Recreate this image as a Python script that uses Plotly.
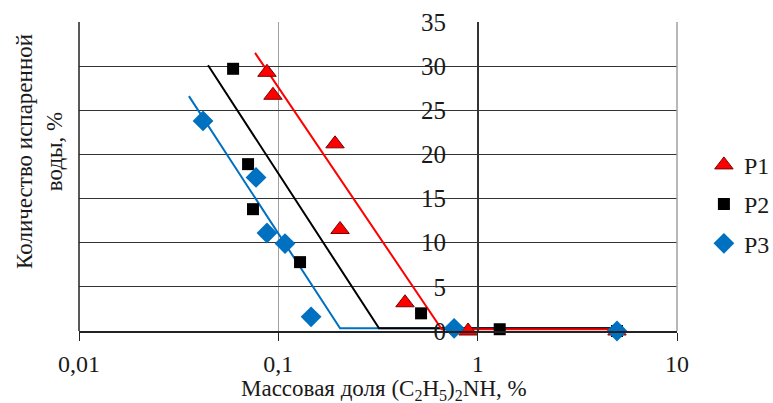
import plotly.graph_objects as go

# ---- data ----
p1_x = [0.0877, 0.094, 0.1925, 0.204, 0.432, 0.895, 5.0]
p1_y = [29.3, 26.7, 21.2, 11.5, 3.2, 0.0, 0.0]
p2_x = [0.0593, 0.0705, 0.0746, 0.1285, 0.52, 1.29, 5.0]
p2_y = [29.7, 18.9, 13.8, 7.8, 2.0, 0.2, 0.0]
p3_x = [0.0419, 0.0773, 0.0877, 0.108, 0.146, 0.762, 5.0]
p3_y = [23.8, 17.4, 11.1, 9.9, 1.6, 0.3, 0.0]

fit1_x = [0.0764, 0.66, 5.0]
fit1_y = [31.5, 0.2, 0.2]
fit2_x = [0.0444, 0.32, 5.0]
fit2_y = [30.1, 0.3, 0.3]
fit3_x = [0.0356, 0.204, 5.0]
fit3_y = [26.6, 0.3, 0.3]

x_ticks = [0.01, 0.1, 1, 10]
x_ticktext = ["0,01", "0,1", "1", "10"]
y_ticks = [0, 5, 10, 15, 20, 25, 30, 35]

RED = "#FF0000"
BLACK = "#000000"
BLUE = "#0070C0"
FONT = "Liberation Serif"
TXT = "#1a1a1a"

fig = go.Figure()

# fit lines
for fx, fy, col in [(fit3_x, fit3_y, BLUE), (fit2_x, fit2_y, BLACK), (fit1_x, fit1_y, RED)]:
    fig.add_trace(go.Scatter(x=fx, y=fy, mode="lines", line=dict(color=col, width=2),
                             showlegend=False, hoverinfo="skip", cliponaxis=False))

fig.add_trace(go.Scatter(x=p1_x, y=p1_y, mode="markers", name="P1", legendgroup="1",
                         marker=dict(symbol="triangle-up", size=16, color=RED,
                                     line=dict(color="#7a0000", width=1)),
                         cliponaxis=False))
fig.add_trace(go.Scatter(x=p2_x, y=p2_y, mode="markers", name="P2", legendgroup="2",
                         marker=dict(symbol="square", size=12, color=BLACK),
                         cliponaxis=False))
fig.add_trace(go.Scatter(x=p3_x, y=p3_y, mode="markers", name="P3", legendgroup="3",
                         marker=dict(symbol="diamond", size=16, color=BLUE),
                         cliponaxis=False))

fig.update_layout(
    width=773, height=403,
    margin=dict(l=79, r=96, t=22, b=72, autoexpand=False),
    paper_bgcolor="white", plot_bgcolor="white",
    font=dict(family=FONT, size=22, color=TXT),
    legend=dict(x=1.045, y=0.41, xanchor="left", yanchor="middle",
                font=dict(size=24, family=FONT, color=TXT),
                tracegroupgap=5, bgcolor="rgba(0,0,0,0)", itemwidth=30),
    xaxis=dict(type="log", range=[-2, 1], tickvals=x_ticks, ticktext=x_ticktext,
               showgrid=True, gridcolor="#a0a0a0", gridwidth=1,
               showline=True, linecolor="#222222", linewidth=1.5,
               ticks="outside", ticklen=8, tickcolor="#222222",
               ticklabelstandoff=2, automargin=False,
               tickfont=dict(size=24, family=FONT, color=TXT),
               zeroline=False),
    yaxis=dict(range=[0, 35], tickvals=y_ticks, anchor="free", position=2/3,
               showgrid=True, gridcolor="#333333", gridwidth=1,
               showline=True, linecolor="#333333", linewidth=1.5,
               ticks="", ticklabelstandoff=26, automargin=False,
               tickfont=dict(size=25, family=FONT, color=TXT),
               zeroline=False),
    showlegend=True,
)

# left border and right border
fig.add_shape(type="line", xref="paper", yref="paper", x0=0, x1=0, y0=0, y1=1,
              line=dict(color="#222222", width=1.5))
fig.add_shape(type="line", xref="paper", yref="paper", x0=1, x1=1, y0=0, y1=1,
              line=dict(color="#a0a0a0", width=1.5))

fig.add_annotation(text="Количество испаренной<br>воды, %", xref="paper", yref="paper",
                   x=-0.065, y=0.58, xanchor="center", yanchor="middle",
                   textangle=-90, showarrow=False,
                   font=dict(size=23, family=FONT, color=TXT), align="center")

fig.add_annotation(text="Массовая доля (C<sub>2</sub>H<sub>5</sub>)<sub>2</sub>NH, %",
                   xref="paper", yref="paper", x=0.51, y=-0.19,
                   xanchor="center", yanchor="middle", showarrow=False,
                   font=dict(size=23, family=FONT, color=TXT))

fig.write_html("out.html")
